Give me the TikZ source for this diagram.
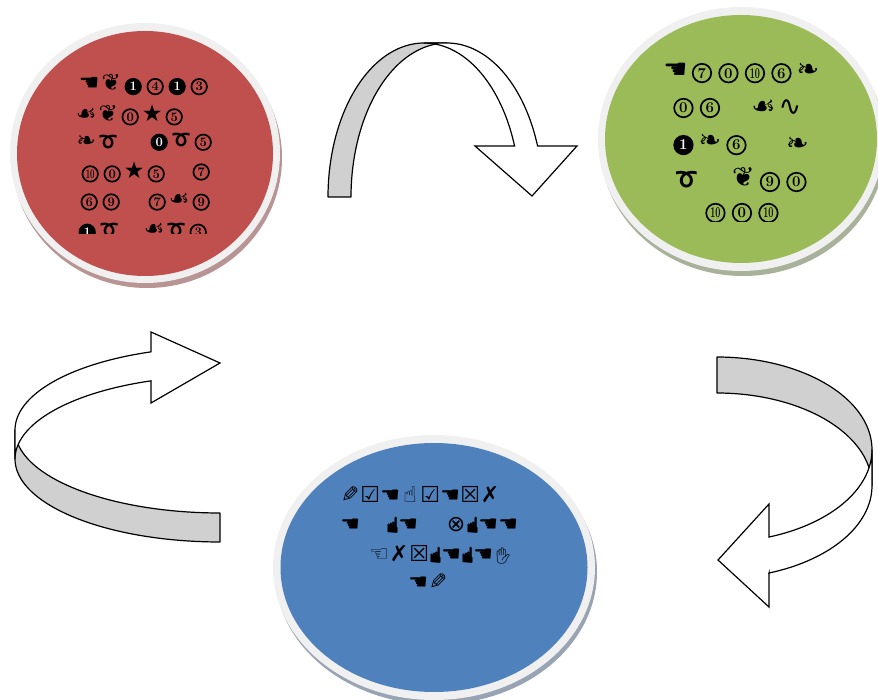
\documentclass[tikz,border=0pt]{standalone}
\usepackage{fontspec}
\usepackage{graphicx}
\newfontfamily\symfont{DejaVu Sans}
\newfontfamily\emofont{Noto Emoji}
\definecolor{redfill}{HTML}{C0504D}
\definecolor{greenfill}{HTML}{9BBB59}
\definecolor{bluefill}{HTML}{4F81BD}
\definecolor{ringgray}{HTML}{F0F0F0}
\definecolor{redshadow}{HTML}{B89494}
\definecolor{greenshadow}{HTML}{A8B29A}
\definecolor{blueshadow}{HTML}{98A3B3}
\definecolor{arrowgray}{HTML}{D0D0D0}
\newlength{\gw}
\def\cdd{16pt}\def\cdf{14}\def\crs{18}
\newcommand{\G}[1]{\makebox[\gw][c]{#1}}
\newcommand{\cd}[1]{\makebox[\gw][c]{\tikz[baseline=(cdn.base)]\node[cdout](cdn){#1};}}
\newcommand{\nd}[1]{\makebox[\gw][c]{\tikz[baseline=(cdn.base)]\node[cdneg](cdn){#1};}}
\newcommand{\ten}{\scalebox{0.6}[1]{10}}
\newcommand{\uphand}{\makebox[12pt][c]{\rotatebox[origin=c]{-90}{☚}}}
\newcommand{\penL}{\G{\reflectbox{✎}}}
\newcommand{\curl}{\G{{\emofont\fontsize{\crs}{\crs}\selectfont ➰}}}
\tikzset{
  cdout/.style={anchor=center, circle, draw=black, line width=1.7pt, inner sep=0pt,
    minimum size=\cdd, text=black, font=\rmfamily\bfseries\fontsize{\cdf}{\cdf}\selectfont},
  cdneg/.style={cdout, fill=black, text=white},
  redtext/.style={inner sep=0pt, anchor=west,
    font={\symfont\fontsize{23}{26}\selectfont\setlength{\gw}{22pt}\def\cdd{15.5pt}\def\cdf{13}\def\crs{19}}},
  greentext/.style={inner sep=0pt, anchor=west,
    font={\symfont\fontsize{27}{30}\selectfont\setlength{\gw}{26.5pt}\def\cdd{18.5pt}\def\cdf{15}\def\crs{23}}},
  bluetext/.style={inner sep=0pt, anchor=west,
    font={\symfont\fontsize{22}{24}\selectfont\setlength{\gw}{20pt}}},
  backband/.style={fill=arrowgray, draw=black, line width=1.2pt, line join=round},
  frontband/.style={fill=white, draw=black, line width=1.2pt, line join=miter},
}
\begin{document}
\begin{tikzpicture}[x=1pt,y=-1pt]
\useasboundingbox (0,0) rectangle (878,700);
% circles
\fill[redshadow] (147,158) ellipse [x radius=135, y radius=130];
\fill[ringgray] (145,153) ellipse [x radius=135, y radius=130];
\fill[redfill] (145,153.5) ellipse [x radius=128, y radius=122.5];
\fill[greenshadow] (743,144) ellipse [x radius=143, y radius=132];
\fill[ringgray] (741,139) ellipse [x radius=143, y radius=132];
\fill[greenfill] (741,139) ellipse [x radius=136, y radius=124];
\fill[blueshadow] (436,572) ellipse [x radius=161, y radius=132.5];
\fill[ringgray] (434,567.5) ellipse [x radius=161, y radius=132.5];
\fill[bluefill] (434,567.5) ellipse [x radius=153.5, y radius=124.5];
% top arrow
\draw[backband] plot[domain=180:270,samples=40] ({424+96*cos(\x)},{197+154*sin(\x)}) -- plot[domain=270:180,samples=40] ({447+96*cos(\x)},{197+154*sin(\x)}) -- cycle;
\draw[frontband] plot[domain=270:340.66,samples=40] ({424+96*cos(\x)},{197+154*sin(\x)}) -- (475,146) -- (532,196) -- (577,146) -- (537.6,146) -- plot[domain=340.66:270,samples=40] ({447+96*cos(\x)},{197+154*sin(\x)}) -- cycle;
% left arrow
\draw[backband] plot[domain=180:90,samples=40] ({220+205*cos(\x)},{430+83*sin(\x)}) -- (220,542) -- plot[domain=90:180,samples=40] ({220+205*cos(\x)},{459+83*sin(\x)}) -- cycle;
\draw[frontband] plot[domain=180:250.33,samples=40] ({220+205*cos(\x)},{430+83*sin(\x)}) -- (151,332) -- (220,363) -- (151,403) -- (151,381) -- plot[domain=250.33:180,samples=40] ({220+205*cos(\x)},{459+83*sin(\x)}) -- cycle;
% right arrow
\draw[backband] plot[domain=270:360,samples=40] ({717+155*cos(\x)},{449.7+92.7*sin(\x)}) -- plot[domain=360:270,samples=40] ({717+155*cos(\x)},{485.7+92.7*sin(\x)}) -- cycle;
\draw[frontband] plot[domain=0:70.4,samples=40] ({717+155*cos(\x)},{449.7+92.7*sin(\x)}) -- (769,504) -- (718,560) -- (769,607) -- (769,573) -- plot[domain=70.4:0,samples=40] ({717+155*cos(\x)},{485.7+92.7*sin(\x)}) -- cycle;
% red text
\begin{scope}
\clip (0,40) rectangle (300,234);
\node[redtext] (r1) at (78,85) {\G{☚}\G{❦}\nd{1}\cd{4}\nd{1}\cd{3}};
\node[redtext] (r2) at (75,115) {\G{☙}\G{❦}\cd{0}\G{★}\cd{5}};
\node[redtext] (r3a) at (75,142) {\G{❧}\curl};
\node[redtext] (r3b) at (148,142) {\nd{0}\curl\cd{5}};
\node[redtext] (r4a) at (79,172) {\cd{\ten}\cd{0}\G{★}\cd{5}};
\node[redtext] (r4b) at (190,172) {\cd{7}};
\node[redtext] (r5a) at (78,202) {\cd{6}\cd{9}};
\node[redtext] (r5b) at (146,202) {\cd{7}\G{☙}\cd{9}};
\node[redtext] (r6a) at (76,232) {\nd{1}\curl};
\node[redtext] (r6b) at (143,232) {\G{☙}\curl\cd{3}};
\end{scope}
% green text
\begin{scope}
\clip (600,40) rectangle (878,222);
\node[greentext] (g1) at (662,73) {\G{☚}\cd{7}\cd{0}\cd{\ten}\cd{6}\G{❧}};
\node[greentext] (g2a) at (670,108) {\cd{0}\cd{6}};
\node[greentext] (g2b) at (750,108) {\G{☙}\G{∿}};
\node[greentext] (g3a) at (670,145) {\nd{1}\G{❧}\cd{6}};
\node[greentext] (g3b) at (784,145) {\G{❧}};
\node[greentext] (g4a) at (673,180) {\curl};
\node[greentext] (g4b) at (730,180) {\G{❦}\cd{9}\cd{0}};
\node[greentext] (g5) at (702,213) {\cd{\ten}\cd{0}\cd{\ten}};
\end{scope}
% blue text
\node[bluetext] (b1) at (340,495) {\penL\G{☑}\G{☚}\G{☝}\G{☑}\G{☚}\G{☒}\G{✗}};
\node[bluetext] (b2a) at (340,525) {\G{☚}};
\node[bluetext] (b2b) at (386,525) {\uphand\G{☚}};
\node[bluetext] (b2c) at (446,525) {\G{⊗}\uphand\G{☚}\G{☚}};
\node[bluetext] (b3) at (369,555) {\G{☜}\G{✗}\G{☒}\uphand\G{☚}\uphand\G{☚}\G{{\emofont\fontsize{16}{16}\selectfont ✋}}};
\node[bluetext] (b4) at (408,582) {\G{☚}\penL};
\end{tikzpicture}
\end{document}
